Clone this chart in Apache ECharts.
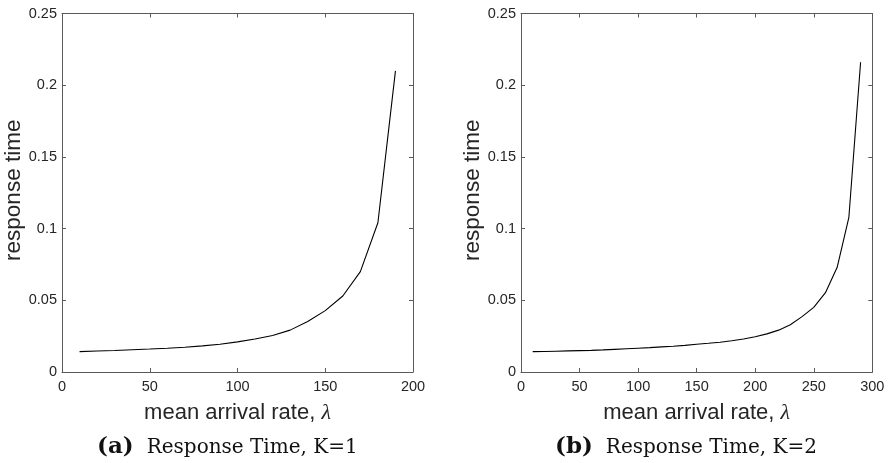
<!DOCTYPE html>
<html>
<head>
<meta charset="utf-8">
<script src="https://cdn.jsdelivr.net/npm/echarts@6/dist/echarts.min.js"></script>
<style>html,body{margin:0;padding:0;background:#fff}#c{width:889px;height:463px}</style>
</head>
<body>
<div id="c"></div>
<script>
var lambdaK1 = [10,20,30,40,50,60,70,80,90,100,110,120,130,140,150,160,170,180,190];
var respK1 = [0.0142,0.0146,0.0150,0.0155,0.0160,0.0166,0.0173,0.0182,0.0193,0.0210,0.0230,0.0255,0.0292,0.0352,0.0428,0.0530,0.0700,0.1041,0.2100];
var lambdaK2 = [10,20,30,40,50,60,70,80,90,100,110,120,130,140,150,160,170,180,190,200,210,220,230,240,250,260,270,280,290];
var respK2 = [0.0142,0.0143,0.0145,0.0147,0.0149,0.0151,0.0154,0.0158,0.0162,0.0166,0.0170,0.0175,0.0180,0.0186,0.0193,0.0200,0.0208,0.0218,0.0230,0.0246,0.0266,0.0292,0.0330,0.0386,0.0451,0.0553,0.0730,0.1079,0.2160];
var xTicksK1 = [0,50,100,150,200];
var xTicksK2 = [0,50,100,150,200,250,300];
var yTicks = [0,0.05,0.1,0.15,0.2,0.25];
var xName = 'mean arrival rate, ';
var yName = 'response time';
var captions = [['(a)','Response Time, K=1'],['(b)','Response Time, K=2']];

var axisCol = '#5a5a5a';
var textCol = '#262626';
var sans = 'Liberation Sans, Arial, Helvetica, sans-serif';
var serif = 'Liberation Serif, DejaVu Serif, Times New Roman, serif';
var capSerif = 'DejaVu Serif, serif';

function pairs(xs, ys){ return xs.map(function(x,i){ return [x, ys[i]]; }); }

var grids = [
  {left:62, right:476, top:13.5, height:358.5},
  {left:521, right:16.7, top:13.5, height:358.5}
];
var xMax = [xTicksK1[xTicksK1.length-1], xTicksK2[xTicksK2.length-1]];

var xAxes = [], yAxes = [];
[0,1].forEach(function(g){
  ['bottom','top'].forEach(function(pos){
    xAxes.push({
      type:'value', gridIndex:g, position:pos, min:0, max:xMax[g], interval:50,
      axisLine:{show:true, onZero:false, lineStyle:{color:axisCol, width:1}},
      axisTick:{show:true, inside:true, length:4, lineStyle:{color:axisCol}},
      splitLine:{show:false},
      axisLabel:{show:pos==='bottom', color:textCol, fontFamily:sans, fontSize:14.5, margin:7},
      name: pos==='bottom' ? '{t|'+xName+'}{l|λ}' : '',
      nameLocation:'middle', nameGap:30,
      nameTextStyle:{rich:{t:{fontFamily:sans, fontSize:22, color:textCol}, l:{fontFamily:serif, fontStyle:'italic', fontSize:22, color:textCol}}}
    });
  });
  ['left','right'].forEach(function(pos){
    yAxes.push({
      type:'value', gridIndex:g, position:pos, min:0, max:0.25, interval:0.05,
      axisLine:{show:true, onZero:false, lineStyle:{color:axisCol, width:1}},
      axisTick:{show:true, inside:true, length:4, lineStyle:{color:axisCol}},
      splitLine:{show:false},
      axisLabel:{show:pos==='left', color:textCol, fontFamily:sans, fontSize:14.5, margin:5,
        formatter:function(v){ return String(+v.toFixed(2)); }},
      name: pos==='left' ? yName : '',
      nameLocation:'middle', nameGap:37, nameRotate:90,
      nameTextStyle:{fontFamily:sans, fontSize:22.5, color:textCol, padding:[0,0,0,5]}
    });
  });
});

function cap(i, x){
  return {type:'text', left:x, top:436, style:{
    text:'{b|'+captions[i][0]+'}{s| }{t|'+captions[i][1]+'}',
    rich:{
      b:{fontFamily:capSerif, fontWeight:'bold', fontSize:23, fill:'#111'},
      s:{fontFamily:capSerif, fontSize:20, width:13, fill:'#111'},
      t:{fontFamily:capSerif, fontSize:20, fill:'#111'}
    }}};
}

var option = {
  animation:false,
  backgroundColor:'#ffffff',
  grid: grids,
  xAxis: xAxes,
  yAxis: yAxes,
  series: [
    {type:'line', xAxisIndex:0, yAxisIndex:0, data:pairs(lambdaK1, respK1), showSymbol:false, lineStyle:{color:'#000', width:1.1}},
    {type:'line', xAxisIndex:2, yAxisIndex:2, data:pairs(lambdaK2, respK2), showSymbol:false, lineStyle:{color:'#000', width:1.1}}
  ],
  graphic: [cap(0, 97), cap(1, 555)]
};
var chart = echarts.init(document.getElementById('c'), null, {renderer:'canvas'});
chart.setOption(option);
</script>
</body>
</html>
